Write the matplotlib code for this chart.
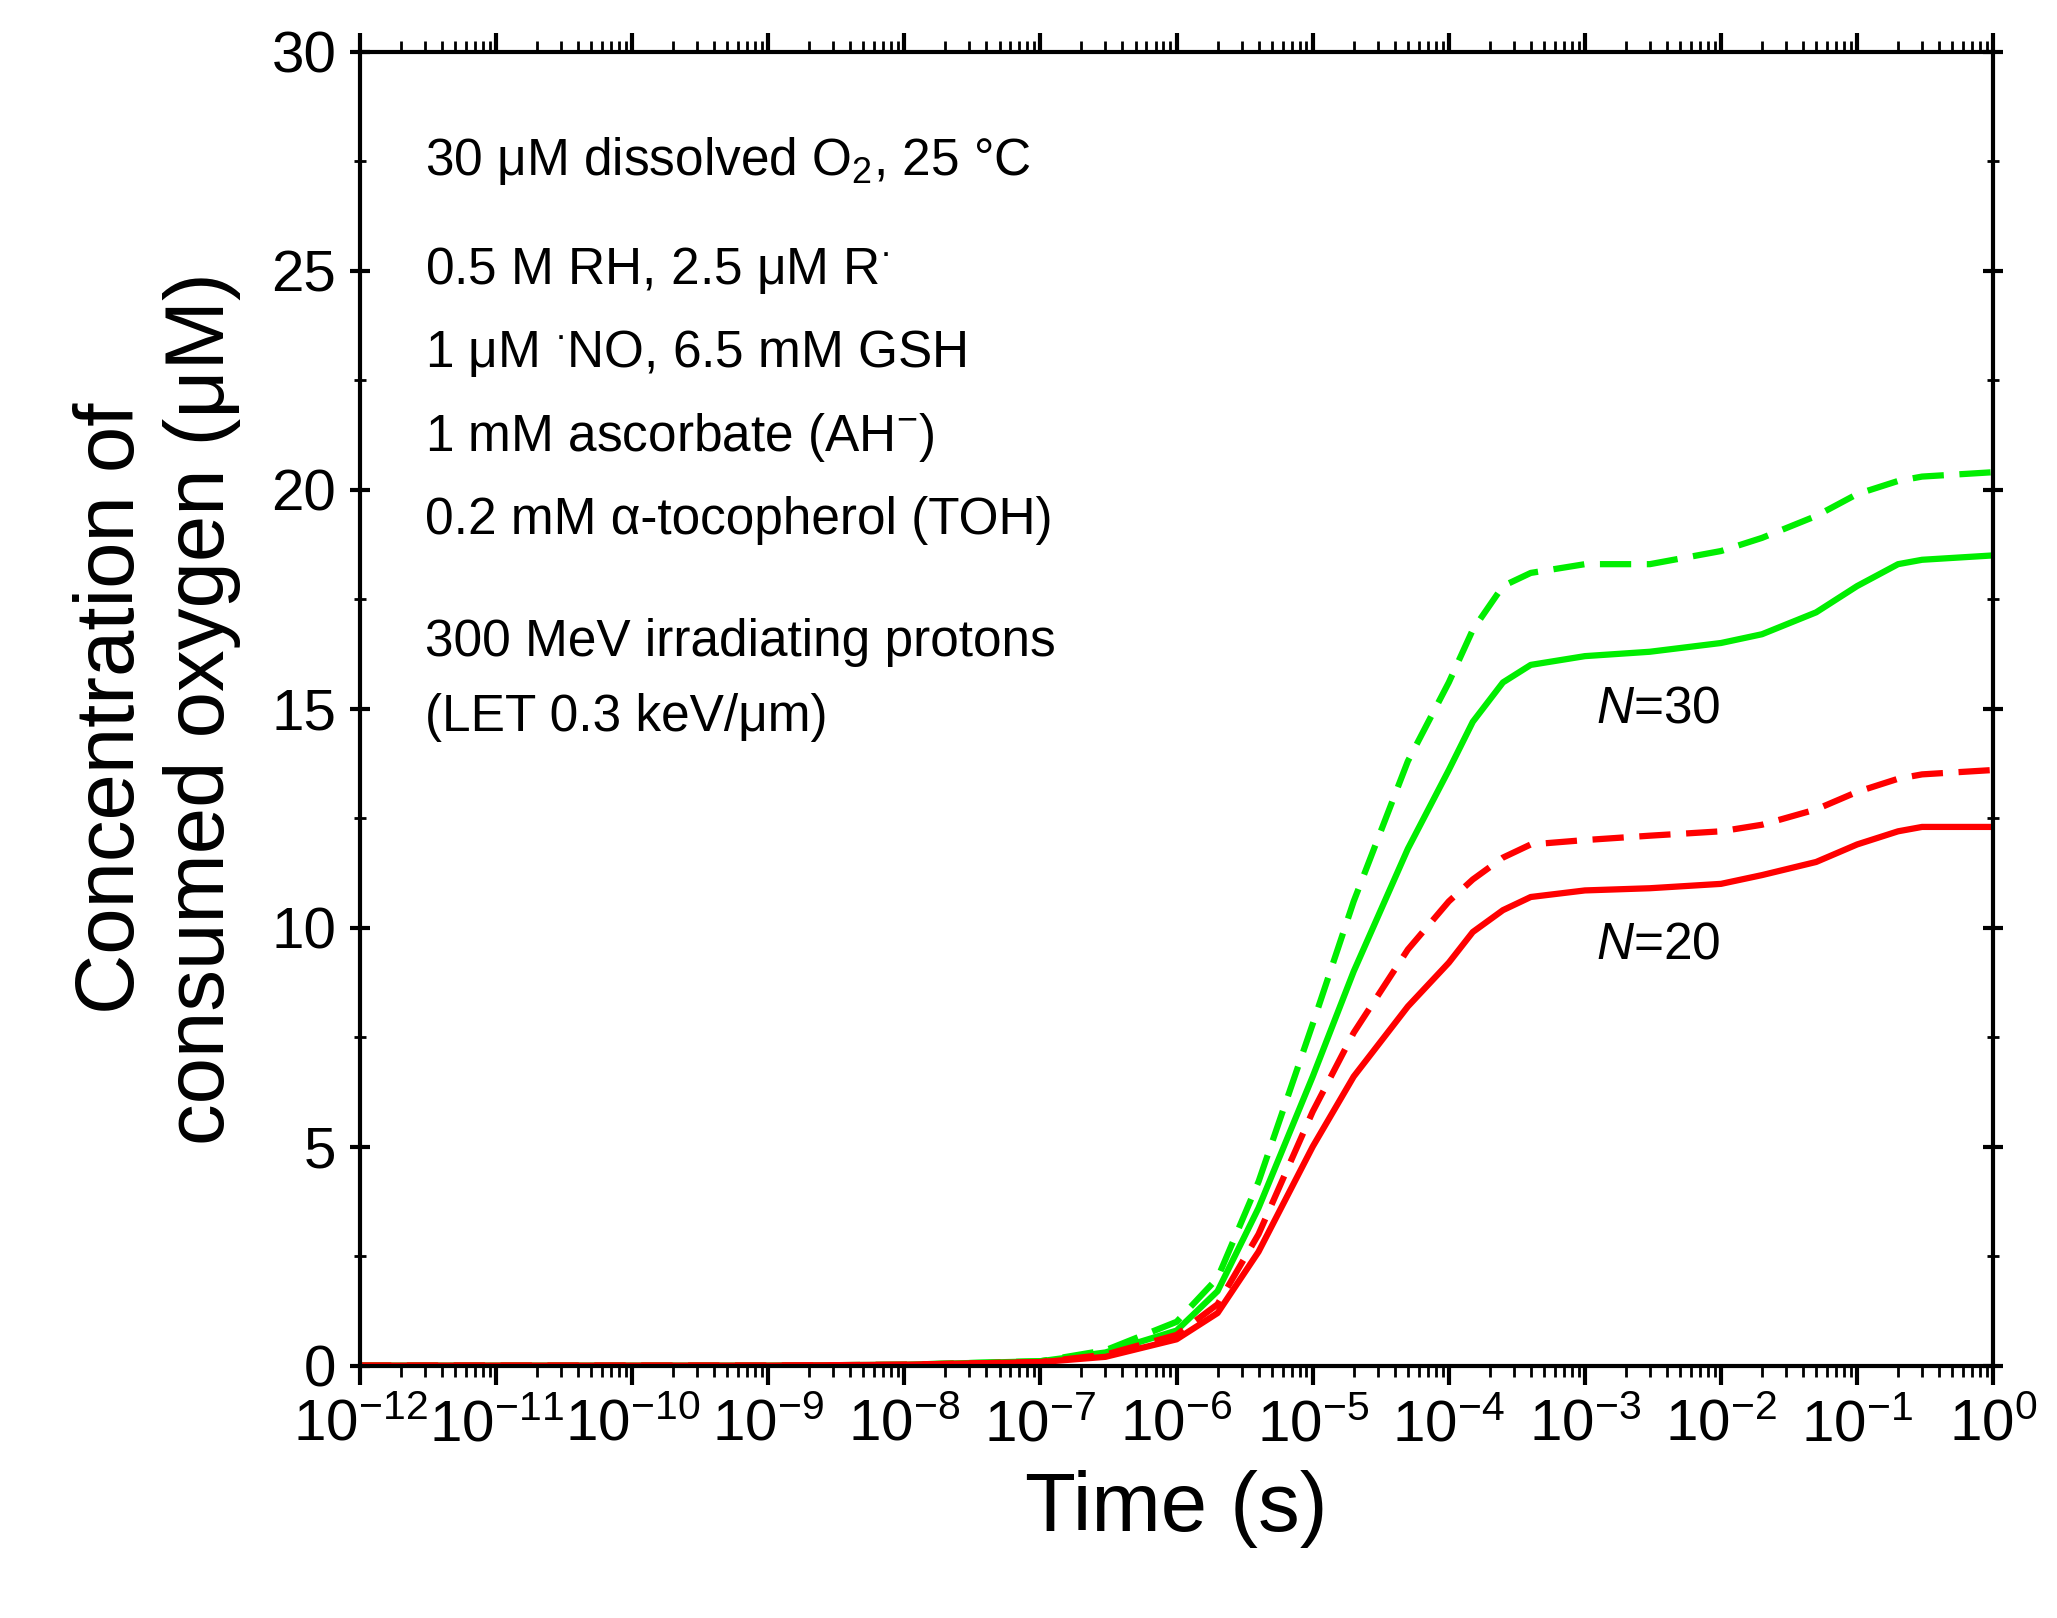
import numpy as np
import matplotlib
matplotlib.use("Agg")
import matplotlib.pyplot as plt
from matplotlib.ticker import LogLocator, NullFormatter, MultipleLocator

plt.rcParams["font.family"] = "Liberation Sans"
plt.rcParams["mathtext.fontset"] = "custom"
plt.rcParams["mathtext.rm"] = "Liberation Sans"
plt.rcParams["mathtext.it"] = "Liberation Sans:italic"

t = [1e-12, 1e-9, 1e-8, 1e-7, 3e-7, 1e-6, 2e-6, 4e-6, 1e-5, 2e-5, 5e-5, 1e-4, 1.5e-4, 2.5e-4, 4e-4,
     1e-3, 3e-3, 1e-2, 2e-2, 5e-2, 1e-1, 2e-1, 3e-1, 1.0]
green_solid = [0, 0, 0.02, 0.1, 0.3, 0.8, 1.7, 3.6, 6.6, 9.0, 11.8, 13.6, 14.7, 15.6, 16.0,
               16.2, 16.3, 16.5, 16.7, 17.2, 17.8, 18.3, 18.4, 18.5]
green_dash  = [0, 0, 0.02, 0.1, 0.35, 1.0, 2.0, 4.2, 7.8, 10.6, 13.8, 15.6, 16.8, 17.8, 18.1,
               18.3, 18.3, 18.6, 18.9, 19.4, 19.9, 20.2, 20.3, 20.4]
red_solid   = [0, 0, 0.02, 0.08, 0.2, 0.6, 1.2, 2.6, 5.0, 6.6, 8.2, 9.2, 9.9, 10.4, 10.7,
               10.85, 10.9, 11.0, 11.2, 11.5, 11.9, 12.2, 12.3, 12.3]
red_dash    = [0, 0, 0.02, 0.08, 0.25, 0.7, 1.4, 3.0, 5.8, 7.6, 9.5, 10.6, 11.1, 11.6, 11.9,
               12.0, 12.1, 12.2, 12.35, 12.7, 13.1, 13.4, 13.5, 13.6]

fig = plt.figure(figsize=(20.57, 16.18), dpi=100)
ax = fig.add_axes([0.175, 0.156, 0.794, 0.812])
lw = 4.5
ax.plot(t, green_dash, color="#00ee00", lw=lw, ls=(0, (5, 2.5)))
ax.plot(t, green_solid, color="#00ee00", lw=lw)
ax.plot(t, red_dash, color="#ff0000", lw=lw, ls=(0, (5, 2.5)))
ax.plot(t, red_solid, color="#ff0000", lw=lw)

ax.set_xscale("log")
ax.set_xlim(1e-12, 1)
ax.set_ylim(0, 30)
ax.set_xticks([10.0**k for k in range(-12, 1)])
ax.set_xticklabels([r"10$^{%d}$" % k for k in range(-12, 1)])
ax.xaxis.set_minor_locator(LogLocator(base=10, subs=np.arange(2, 10), numticks=100))
ax.xaxis.set_minor_formatter(NullFormatter())
ax.yaxis.set_major_locator(MultipleLocator(5))
ax.yaxis.set_minor_locator(MultipleLocator(2.5))
for s in ax.spines.values():
    s.set_linewidth(3)
ax.tick_params(which="major", direction="out", length=14, width=3, labelsize=42,
               top=True, right=True, pad=10)
ax.tick_params(which="minor", direction="out", length=8, width=2, top=True, right=True)
ax.tick_params(axis="y", which="both", right=True, direction="inout")
ax.set_xlabel("Time (s)", fontsize=60, labelpad=12)
ax.set_ylabel("Concentration of\nconsumed oxygen (μM)", fontsize=60, labelpad=22)

fs = 37
lines = ["30 μM dissolved O$_2$, 25 °C",
         "0.5 M RH, 2.5 μM R$^{\\bullet}$",
         "1 μM $^{\\bullet}$NO, 6.5 mM GSH",
         "1 mM ascorbate (AH$^{-}$)",
         "0.2 mM α-tocopherol (TOH)"]
ys = [27.5, 25.0, 23.1, 21.2, 19.3]
for s, y in zip(lines, ys):
    ax.text(3e-12, y, s, fontsize=fs, va="center")
ax.text(3e-12, 16.5, "300 MeV irradiating protons", fontsize=fs, va="center")
ax.text(3e-12, 14.8, "(LET 0.3 keV/μm)", fontsize=fs, va="center")
ax.text(1.2e-3, 15.0, "$\\it{N}$=30", fontsize=fs, va="center")
ax.text(1.2e-3, 9.6, "$\\it{N}$=20", fontsize=fs, va="center")

fig.savefig("out.png", dpi=100)
